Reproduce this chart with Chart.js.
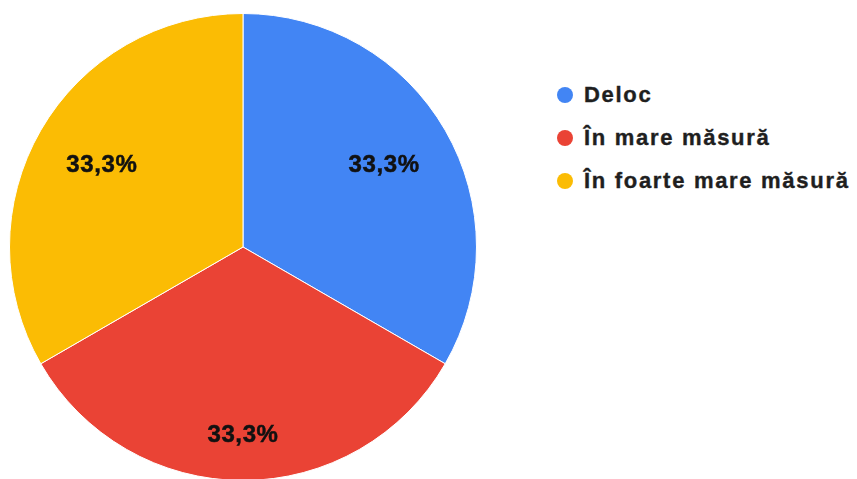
<!DOCTYPE html>
<html>
<head>
<meta charset="utf-8">
<script src="https://cdn.jsdelivr.net/npm/chart.js@4"></script>
<style>
  html, body { margin: 0; padding: 0; background: #fff; width: 857px; height: 479px; overflow: hidden; }
  #wrap { position: relative; width: 857px; height: 479px; overflow: hidden; }
  #chartBox { position: absolute; left: 0; top: 0; width: 490px; height: 490px; }
  #legend { position: absolute; left: 557px; top: 73px; font-family: "Liberation Sans", Arial, sans-serif; font-weight: bold; font-size: 22px; letter-spacing: 1.7px; color: #1f1f1f; -webkit-text-stroke: 0.4px #1f1f1f; }
  .item { display: flex; align-items: center; height: 43px; white-space: nowrap; }
  .dot { width: 16px; height: 16px; border-radius: 50%; margin-right: 11px; flex: none; -webkit-text-stroke: 0; }
</style>
</head>
<body>
<div id="wrap">
  <div id="chartBox"><canvas id="c" width="490" height="490"></canvas></div>
  <div id="legend"></div>
</div>
<script>
const categories = ["Deloc", "În mare măsură", "În foarte mare măsură"];
const values = [1, 1, 1];
const valueLabels = ["33,3%", "33,3%", "33,3%"];
const colors = ["#4285F4", "#EA4335", "#FBBC04"];

const labelPlugin = {
  id: 'sliceLabels',
  afterDatasetsDraw(chart, args, opts) {
    const ctx = chart.ctx;
    const meta = chart.getDatasetMeta(0);
    ctx.save();
    ctx.font = opts.font;
    if ('letterSpacing' in ctx) ctx.letterSpacing = opts.letterSpacing;
    ctx.fillStyle = opts.color;
    ctx.strokeStyle = opts.color;
    ctx.lineWidth = opts.strokeWidth;
    ctx.textAlign = 'center';
    ctx.textBaseline = 'middle';
    meta.data.forEach((arc, i) => {
      const mid = (arc.startAngle + arc.endAngle) / 2;
      const f = opts.radiusFactor[i];
      const x = arc.x + Math.cos(mid) * arc.outerRadius * f;
      const y = arc.y + Math.sin(mid) * arc.outerRadius * f;
      ctx.fillText(valueLabels[i], x, y);
      ctx.strokeText(valueLabels[i], x, y);
    });
    ctx.restore();
  }
};

const chart = new Chart(document.getElementById('c'), {
  type: 'pie',
  data: {
    labels: categories,
    datasets: [{
      data: values,
      backgroundColor: colors,
      borderColor: '#ffffff',
      borderWidth: 1
    }]
  },
  options: {
    responsive: false,
    animation: false,
    layout: { padding: { left: 9, top: 13, right: 13, bottom: 9 } },
    plugins: {
      legend: { display: false },
      tooltip: { enabled: false },
      sliceLabels: {
        font: 'bold 24px "Liberation Sans", Arial, sans-serif',
        letterSpacing: '0.6px',
        strokeWidth: 0.5,
        color: '#111',
        radiusFactor: [0.698, 0.808, 0.698]
      }
    }
  },
  plugins: [labelPlugin]
});

const legend = document.getElementById('legend');
categories.forEach((name, i) => {
  const row = document.createElement('div');
  row.className = 'item';
  const dot = document.createElement('span');
  dot.className = 'dot';
  dot.style.background = colors[i];
  const txt = document.createElement('span');
  txt.textContent = name;
  row.appendChild(dot);
  row.appendChild(txt);
  legend.appendChild(row);
});
</script>
</body>
</html>
